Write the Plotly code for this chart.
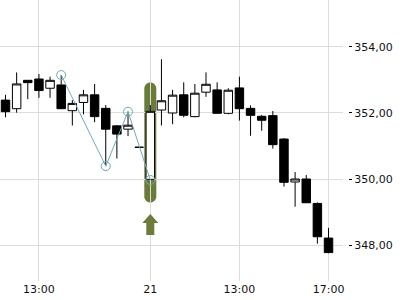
import plotly.graph_objects as go

# ---- data ----
idx = list(range(30))
opens = [352.39, 352.13, 352.99, 353.03, 352.75, 352.85, 352.07, 352.32, 352.55, 352.14,
         351.61, 351.51, 350.96, 349.99, 352.09, 352.00, 352.55, 351.89, 352.63, 352.70,
         351.99, 352.76, 352.14, 351.90, 351.92, 351.21, 349.91, 350.00, 349.26, 348.21]
highs = [352.55, 353.23, 353.00, 353.18, 353.10, 353.15, 352.39, 352.70, 352.88, 352.24,
         351.63, 352.04, 350.96, 352.24, 353.63, 352.70, 352.93, 352.88, 353.23, 352.93,
         352.75, 353.10, 352.23, 351.94, 352.06, 351.24, 350.21, 350.12, 349.29, 348.52]
lows = [351.87, 352.01, 352.42, 352.46, 352.46, 352.12, 351.62, 351.96, 351.72, 350.39,
        350.62, 351.30, 350.96, 349.97, 351.62, 351.66, 351.87, 351.87, 352.49, 351.99,
        351.96, 351.77, 351.31, 351.46, 350.92, 349.77, 349.16, 349.28, 348.04, 347.75]
closes = [352.04, 352.88, 352.92, 352.68, 352.99, 352.13, 352.29, 352.55, 351.89, 351.51,
          351.36, 351.63, 350.96, 352.05, 352.37, 352.54, 351.93, 352.60, 352.87, 351.99,
          352.69, 352.13, 351.93, 351.78, 351.04, 349.90, 350.00, 349.28, 348.25, 347.77]

tick_idx = [3, 13, 21, 29]
tick_labels = ["13:00", "21", "13:00", "17:00"]
y_ticks = [348, 350, 352, 354]

# zigzag pivots (index, which: 'H' or 'L')
zz_idx = [5, 9, 11, 13]
zz_kind = ["H", "L", "H", "L"]
zz_price = [highs[i] if k == "H" else lows[i] for i, k in zip(zz_idx, zz_kind)]

hl_idx = 13          # highlighted candle
hl_pad = 0.5

OLIVE = "#6a7b3a"
TEAL = "#72aab3"
GRID = "#dcdcdc"
FONT = dict(family="DejaVu Sans", size=11, color="#111")

Y_RANGE = [346.909, 355.424]
PX_PER_UNIT = 281 / (Y_RANGE[1] - Y_RANGE[0])

fig = go.Figure()

fig.add_trace(go.Candlestick(
    x=idx, open=opens, high=highs, low=lows, close=closes,
    increasing=dict(line=dict(color="black", width=1), fillcolor="white"),
    decreasing=dict(line=dict(color="black", width=1), fillcolor="black"),
    whiskerwidth=0, showlegend=False))

fig.add_trace(go.Scatter(
    x=zz_idx, y=zz_price, mode="lines+markers",
    line=dict(color=TEAL, width=1),
    marker=dict(symbol="circle-open", size=9, color=TEAL, line=dict(width=1)),
    showlegend=False))

# rounded highlight bar behind the candle (x in pixels around the candle, y in data)
r = 6.0
ry = r / PX_PER_UNIT
k = 0.5523
yt = highs[hl_idx] + hl_pad
yb = lows[hl_idx] - hl_pad
hl_path = (
    f"M {-r},{yb} L {-r},{yt} "
    f"C {-r},{yt + k*ry} {-k*r},{yt + ry} 0,{yt + ry} "
    f"C {k*r},{yt + ry} {r},{yt + k*ry} {r},{yt} "
    f"L {r},{yb} "
    f"C {r},{yb - k*ry} {k*r},{yb - ry} 0,{yb - ry} "
    f"C {-k*r},{yb - ry} {-r},{yb - k*ry} {-r},{yb} Z"
)
fig.add_shape(type="path", xref="x", yref="y", xsizemode="pixel", xanchor=hl_idx,
              path=hl_path, fillcolor=OLIVE, line=dict(width=0), layer="below")

# arrow under highlighted candle
fig.add_shape(type="path", xref="x", yref="y", xsizemode="pixel", ysizemode="pixel",
              xanchor=hl_idx, yanchor=lows[hl_idx],
              path="M 0,-34 L 8,-43 L 4,-43 L 4,-55 L -4,-55 L -4,-43 L -8,-43 Z",
              fillcolor=OLIVE, line=dict(width=0))

xr = [-0.494, 30.3]
fig.update_layout(
    width=400, height=300, margin=dict(l=0, r=0, t=0, b=0),
    paper_bgcolor="white", plot_bgcolor="white",
    separators=",.", font=FONT, showlegend=False,
    boxgap=0.24, boxgroupgap=0,
    xaxis=dict(domain=[0, 0.8575], range=xr, tickvals=tick_idx, ticktext=tick_labels,
               showgrid=True, gridcolor=GRID, gridwidth=1, ticks="", zeroline=False,
               showline=False, rangeslider=dict(visible=False), tickfont=FONT),
    xaxis2=dict(overlaying="x", anchor="free", position=0.01, range=xr,
                tickvals=tick_idx, showticklabels=False, ticks="inside", ticklen=4,
                tickcolor="black", showgrid=False, zeroline=False, showline=False),
    yaxis=dict(domain=[19 / 300, 1], range=Y_RANGE, side="right",
               anchor="free", position=0.87, tickvals=y_ticks, tickformat=".2f",
               ticks="outside", ticklen=3, tickcolor="black", showgrid=True,
               gridcolor=GRID, gridwidth=1, zeroline=False, showline=False, tickfont=FONT),
)

fig.write_html("out.html")
